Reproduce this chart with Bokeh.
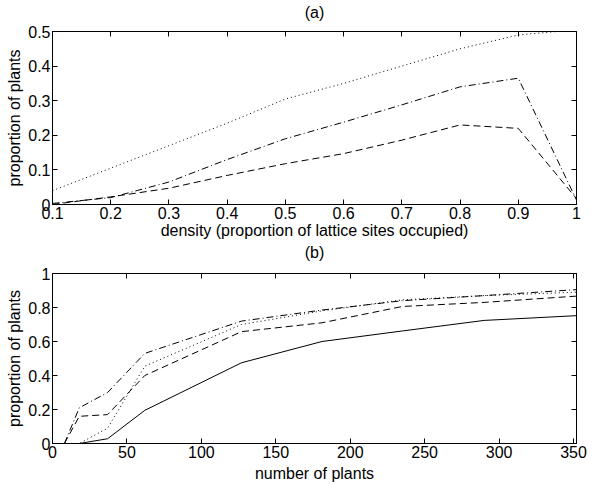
from bokeh.plotting import figure
from bokeh.layouts import column
from bokeh.models import Range1d, LinearAxis, FixedTicker, CustomJSTickFormatter
from bokeh.core.properties import value
from bokeh.embed import file_html
from bokeh.resources import INLINE

# ---- panel (a) data ----
density = [0.1, 0.2, 0.3, 0.4, 0.5, 0.6, 0.7, 0.8, 0.9, 1.0]
a_dotted = [0.04, 0.105, 0.17, 0.235, 0.305, 0.35, 0.40, 0.45, 0.49, 0.505]
a_dashdot = [0.003, 0.02, 0.065, 0.13, 0.19, 0.238, 0.288, 0.34, 0.365, 0.013]
a_dashed = [0.0, 0.022, 0.047, 0.084, 0.118, 0.147, 0.186, 0.23, 0.22, 0.017]
a_xticks = [0.1, 0.2, 0.3, 0.4, 0.5, 0.6, 0.7, 0.8, 0.9, 1.0]
a_yticks = [0, 0.1, 0.2, 0.3, 0.4, 0.5]

# ---- panel (b) data ----
plants = [8, 18, 37, 62, 127, 181, 235, 290, 352]
b_solid = [0, 0, 0.028, 0.195, 0.475, 0.60, 0.662, 0.724, 0.752]
b_dotted = [0, 0, 0.09, 0.455, 0.70, 0.78, 0.845, 0.87, 0.89]
b_dashed = [0, 0.16, 0.17, 0.40, 0.658, 0.71, 0.806, 0.83, 0.867]
b_dashdot = [0, 0.21, 0.30, 0.53, 0.72, 0.785, 0.84, 0.87, 0.905]
b_xticks = [0, 50, 100, 150, 200, 250, 300, 350]
b_yticks = [0, 0.2, 0.4, 0.6, 0.8, 1.0]

titles = ["(a)", "(b)"]

FONT = "Liberation Sans"
FS = "16px"
fmt_code = "return String(Math.round(tick*100)/100);"


def style_axis(ax, ticks, labels=True):
    ax.ticker = FixedTicker(ticks=ticks)
    ax.major_tick_in = 5
    ax.major_tick_out = 0
    ax.minor_tick_in = 0
    ax.minor_tick_out = 0
    ax.axis_line_color = "black"
    ax.major_tick_line_color = "black"
    ax.major_label_text_font = FONT
    ax.major_label_text_font_size = FS
    ax.major_label_text_color = "black"
    ax.axis_label_text_font = FONT
    ax.axis_label_text_font_size = FS
    ax.axis_label_text_font_style = "normal"
    ax.axis_label_text_color = "black"
    ax.axis_label_standoff = 4
    ax.major_label_standoff = 2
    if labels:
        ax.formatter = CustomJSTickFormatter(code=fmt_code)
    else:
        ax.formatter = CustomJSTickFormatter(code="return '';")
        ax.major_label_standoff = 0


def title_fig(height, text):
    t = figure(width=594, height=height, x_range=Range1d(0, 1), y_range=Range1d(0, 1),
               output_backend="svg", toolbar_location=None,
               x_axis_location=None, y_axis_location=None,
               min_border_left=52, min_border_right=18, min_border_top=0,
               min_border_bottom=0)
    t.xgrid.visible = False
    t.ygrid.visible = False
    t.outline_line_color = None
    t.background_fill_color = "white"
    t.border_fill_color = "white"
    t.text(x=[0.5], y=[0.5], text=[text], text_align="center", text_baseline="middle",
           text_font=value(FONT), text_font_size=value(FS), text_color="black")
    return t


def make_fig(height, xr, yr, top, bottom, xticks, yticks, xlabel, ylabel, xlstand):
    p = figure(width=594, height=height, x_range=Range1d(*xr), y_range=Range1d(*yr),
               output_backend="svg", toolbar_location=None,
               min_border_left=52, min_border_right=18, min_border_top=top,
               min_border_bottom=bottom)
    p.xgrid.visible = False
    p.ygrid.visible = False
    p.outline_line_color = "black"
    p.background_fill_color = "white"
    p.border_fill_color = "white"
    style_axis(p.xaxis[0], xticks)
    style_axis(p.yaxis[0], yticks)
    p.yaxis[0].axis_label_standoff = 2
    p.xaxis[0].axis_label_standoff = xlstand
    p.xaxis[0].axis_label = xlabel
    p.yaxis[0].axis_label = ylabel
    ra = LinearAxis()
    style_axis(ra, yticks, labels=False)
    p.add_layout(ra, "right")
    ta = LinearAxis()
    style_axis(ta, xticks, labels=False)
    p.add_layout(ta, "above")
    return p


ta_fig = title_fig(24, titles[0])
pa = make_fig(219, (0.1, 1.0), (0, 0.5), 7, 39, a_xticks, a_yticks,
              "density (proportion of lattice sites occupied)", "proportion of plants", 0)
pa.line(density, a_dotted, line_color="black", line_width=1, line_dash="1 3")
pa.line(density, a_dashdot, line_color="black", line_width=1, line_dash="7 3 1 3")
pa.line(density, a_dashed, line_color="black", line_width=1, line_dash="7 4")

tb_fig = title_fig(18, titles[1])
pb = make_fig(223, (0, 352), (0, 1), 12, 38, b_xticks, b_yticks,
              "number of plants", "proportion of plants", 4)
pb.line(plants, b_solid, line_color="black", line_width=1)
pb.line(plants, b_dotted, line_color="black", line_width=1, line_dash="1 3")
pb.line(plants, b_dashed, line_color="black", line_width=1, line_dash="7 4")
pb.line(plants, b_dashdot, line_color="black", line_width=1, line_dash="7 3 1 3")

layout = column(ta_fig, pa, tb_fig, pb, spacing=0)
open("out.html", "w").write(file_html(layout, INLINE))
